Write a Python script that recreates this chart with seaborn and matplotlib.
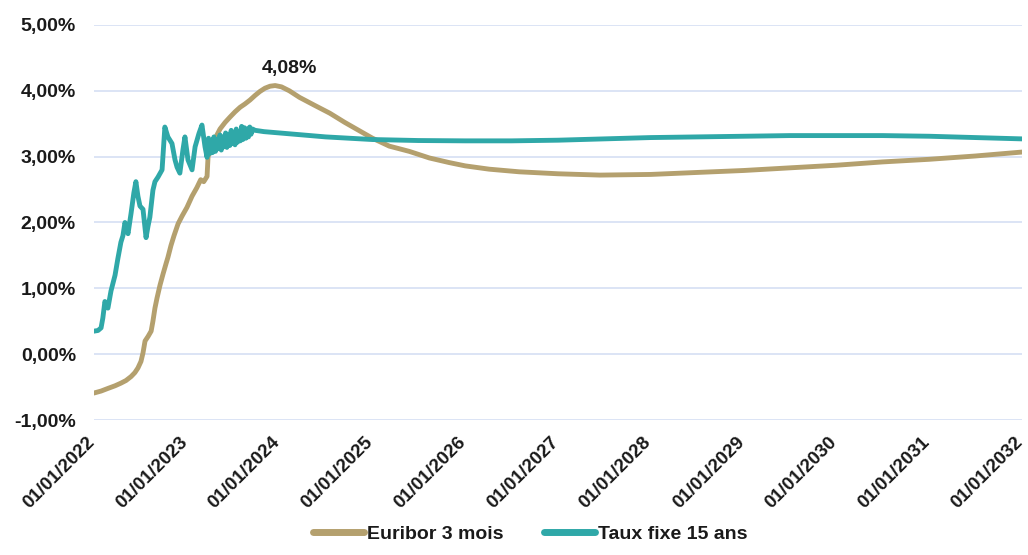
import matplotlib
matplotlib.use("Agg")
import matplotlib.pyplot as plt
import matplotlib.dates as mdates
import matplotlib.transforms as mtransforms
from matplotlib.ticker import FuncFormatter, MultipleLocator
import pandas as pd
import seaborn as sns

# Euribor 3 mois: history then forward curve
euribor_dates = [
    "2022-01-01", "2022-01-29", "2022-02-25", "2022-03-25", "2022-04-17", "2022-05-07",
    "2022-05-27", "2022-06-11", "2022-06-23", "2022-07-05", "2022-07-13", "2022-07-21",
    "2022-08-02", "2022-08-14", "2022-08-21", "2022-08-29", "2022-09-06", "2022-09-18",
    "2022-09-30", "2022-10-12", "2022-10-19", "2022-10-31", "2022-11-12", "2022-11-28",
    "2022-12-14", "2023-01-02", "2023-01-22", "2023-02-10", "2023-02-25", "2023-03-09",
    "2023-03-22", "2023-03-26", "2023-04-10", "2023-04-26", "2023-05-12", "2023-06-01",
    "2023-06-20", "2023-07-10", "2023-07-30", "2023-08-18", "2023-09-07",
    "2023-09-27", "2023-10-16", "2023-11-05", "2023-11-25", "2023-12-15", "2024-01-09",
    "2024-02-09", "2024-03-20", "2024-05-18", "2024-07-17", "2024-09-14", "2024-11-12",
    "2025-01-01", "2025-03-08", "2025-05-26", "2025-08-13", "2025-10-30", "2026-01-01",
    "2026-04-05", "2026-08-01", "2027-01-01", "2027-06-15", "2028-01-01", "2028-07-01",
    "2029-01-01", "2029-07-01", "2030-01-01", "2030-07-01", "2031-01-01", "2031-07-01",
    "2032-01-01",
]
euribor_values = [
    -0.59, -0.56, -0.52, -0.48, -0.44, -0.40,
    -0.34, -0.28, -0.21, -0.11, 0.02, 0.20,
    0.27, 0.35, 0.50, 0.70, 0.85, 1.05,
    1.22, 1.38, 1.47, 1.65, 1.80, 1.98,
    2.10, 2.23, 2.40, 2.53, 2.65, 2.62,
    2.70, 3.00, 3.15, 3.30, 3.42, 3.52,
    3.60, 3.68, 3.75, 3.80, 3.86,
    3.93, 3.99, 4.04, 4.07, 4.08, 4.06,
    4.00, 3.90, 3.78, 3.66, 3.52, 3.39,
    3.28, 3.16, 3.08, 2.98, 2.91, 2.86,
    2.81, 2.77, 2.74, 2.72, 2.73, 2.76,
    2.79, 2.83, 2.87, 2.92, 2.96, 3.01,
    3.07,
]

# Taux fixe 15 ans: history then forward curve
fixe_dates = [
    "2022-01-01", "2022-01-17", "2022-01-29", "2022-02-05", "2022-02-13", "2022-02-25",
    "2022-03-09", "2022-03-25", "2022-04-05", "2022-04-17", "2022-04-25", "2022-05-03",
    "2022-05-15", "2022-05-27", "2022-06-07", "2022-06-15", "2022-06-23", "2022-07-01",
    "2022-07-13", "2022-07-25", "2022-08-02", "2022-08-09", "2022-08-21", "2022-08-29",
    "2022-09-10", "2022-09-26", "2022-10-07", "2022-10-19", "2022-11-04", "2022-11-16",
    "2022-11-24", "2022-12-05", "2022-12-17", "2022-12-25", "2023-01-06", "2023-01-22",
    "2023-02-03", "2023-02-18", "2023-03-02", "2023-03-14", "2023-03-22", "2023-03-28",
    "2023-04-03", "2023-04-07", "2023-04-12", "2023-04-18", "2023-04-24", "2023-04-30",
    "2023-05-05", "2023-05-12", "2023-05-17", "2023-05-22", "2023-05-28", "2023-06-03",
    "2023-06-08", "2023-06-13", "2023-06-20", "2023-06-25", "2023-06-30", "2023-07-05",
    "2023-07-10", "2023-07-15", "2023-07-20", "2023-07-26", "2023-07-31", "2023-08-05",
    "2023-08-10", "2023-08-16", "2023-08-22", "2023-08-27", "2023-09-01", "2023-09-06",
    "2023-09-11", "2023-09-17", "2023-09-27",
    "2023-11-01", "2024-01-01", "2024-07-01", "2025-01-01", "2025-07-01", "2026-01-01",
    "2026-07-01", "2027-01-01", "2027-07-01", "2028-01-01", "2028-07-01", "2029-01-01",
    "2029-07-01", "2030-01-01", "2030-07-01", "2031-01-01", "2031-07-01", "2032-01-01",
]
fixe_values = [
    0.35, 0.36, 0.40, 0.55, 0.80, 0.70,
    0.96, 1.20, 1.45, 1.70, 1.80, 2.00,
    1.83, 2.14, 2.45, 2.62, 2.40, 2.25,
    2.20, 1.77, 1.95, 2.08, 2.49, 2.62,
    2.69, 2.80, 3.45, 3.30, 3.20, 2.95,
    2.84, 2.75, 3.10, 3.30, 2.95, 2.80,
    3.15, 3.35, 3.48, 3.15, 2.99, 3.28,
    3.05, 3.24, 3.06, 3.30, 3.08, 3.26,
    3.12, 3.33, 3.10, 3.30, 3.15, 3.36,
    3.14, 3.34, 3.17, 3.40, 3.20, 3.36,
    3.18, 3.42, 3.22, 3.38, 3.24, 3.46,
    3.26, 3.44, 3.28, 3.42, 3.30, 3.45,
    3.34, 3.42, 3.40,
    3.38, 3.36, 3.30, 3.26, 3.245, 3.24,
    3.24, 3.25, 3.27, 3.29, 3.30, 3.31,
    3.32, 3.32, 3.32, 3.31, 3.29, 3.27,
]

series_names = ["Euribor 3 mois", "Taux fixe 15 ans"]
series_colors = ["#B4A06E", "#2FA8A8"]
peak_label = "4,08%"

df = pd.concat([
    pd.DataFrame({"date": pd.to_datetime(euribor_dates), "taux": euribor_values,
                  "serie": series_names[0]}),
    pd.DataFrame({"date": pd.to_datetime(fixe_dates), "taux": fixe_values,
                  "serie": series_names[1]}),
], ignore_index=True)

sns.set_theme(style="white")
plt.rcParams["font.family"] = ["Liberation Sans", "DejaVu Sans"]
text_color = "#1A1A1A"

fig = plt.figure(figsize=(10.28, 5.55), dpi=100)
ax = fig.add_axes([0.0914, 0.2432, 0.9028, 0.7118])

sns.lineplot(data=df, x="date", y="taux", hue="serie", hue_order=series_names,
             palette=series_colors, linewidth=3.5, estimator=None, sort=False,
             ax=ax, legend=True)

ax.set_xlim(pd.Timestamp("2022-01-01"), pd.Timestamp("2032-01-01"))
ax.set_ylim(-1, 5)
ax.yaxis.set_major_locator(MultipleLocator(1))
ax.yaxis.set_major_formatter(FuncFormatter(lambda v, _: f"{v:.2f}%".replace(".", ",")))
ax.xaxis.set_major_locator(mdates.YearLocator())
ax.xaxis.set_major_formatter(mdates.DateFormatter("%d/%m/%Y"))

ax.grid(axis="y", color="#D6DFF3", linewidth=1.2)
ax.grid(axis="x", visible=False)
for s in ax.spines.values():
    s.set_visible(False)

ax.set_xlabel("")
ax.set_ylabel("")
ax.tick_params(axis="y", length=0, pad=13, labelsize=14, labelcolor=text_color)
ax.tick_params(axis="x", length=0, pad=14, labelsize=13.5, labelcolor=text_color)
for lbl in ax.get_yticklabels():
    lbl.set_fontweight("bold")
shift = mtransforms.ScaledTranslation(-2 / 100, 0, fig.dpi_scale_trans)
for lbl in ax.get_xticklabels():
    lbl.set_fontweight("bold")
    lbl.set_rotation(45)
    lbl.set_ha("right")
    lbl.set_va("center")
    lbl.set_rotation_mode("anchor")
    lbl.set_transform(lbl.get_transform() + shift)

# Peak of the Euribor forward curve
peak_idx = euribor_values.index(max(euribor_values))
ax.annotate(peak_label, xy=(pd.Timestamp(euribor_dates[peak_idx]), euribor_values[peak_idx]),
            xytext=(10, 6), textcoords="offset points", ha="center", va="bottom",
            fontsize=14, fontweight="bold", color=text_color)

handles, labels = ax.get_legend_handles_labels()
ax.legend(handles, labels, loc="lower center", bbox_to_anchor=(0.47, -0.355),
          ncol=2, frameon=False, handlelength=2.6, handletextpad=0.15,
          columnspacing=2.1, prop={"weight": "bold", "size": 14})
leg = ax.get_legend()
for line in leg.get_lines():
    line.set_linewidth(5)
for t in leg.get_texts():
    t.set_color(text_color)

fig.savefig("out.png", dpi=100)
